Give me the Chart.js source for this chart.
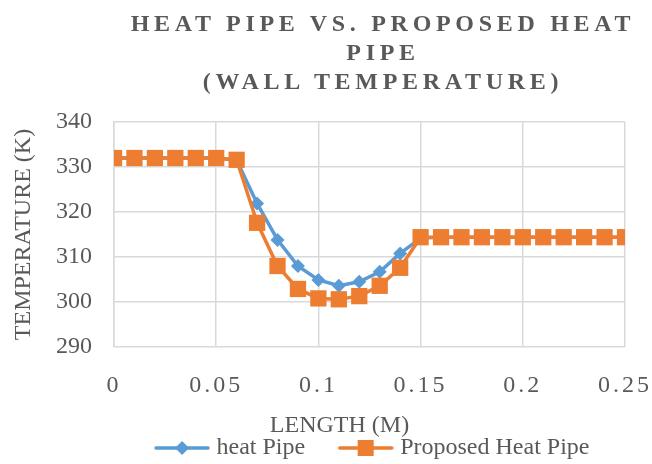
<!DOCTYPE html>
<html>
<head>
<meta charset="utf-8">
<script src="https://cdn.jsdelivr.net/npm/chart.js@4/dist/chart.umd.min.js"></script>
<style>
  html, body { margin: 0; padding: 0; background: #fff; }
  #wrap { position: relative; width: 652px; height: 464px; overflow: hidden; }
  #title {
    position: absolute; left: 103px; width: 560px; top: 9px;
    text-align: center; font-family: "Liberation Serif", "Times New Roman", serif;
    font-weight: bold; font-size: 24px; line-height: 29px; letter-spacing: 4.7px;
    color: #595959; white-space: nowrap;
  }
  canvas { position: absolute; left: 0; top: 0; }
</style>
</head>
<body>
<div id="wrap">
  <canvas id="c" width="652" height="464"></canvas>
  <div id="title">HEAT PIPE VS. PROPOSED HEAT<br>PIPE<br>(WALL TEMPERATURE)</div>
</div>
<script>
const lengths = [0, 0.01, 0.02, 0.03, 0.04, 0.05, 0.06, 0.07, 0.08, 0.09, 0.10, 0.11, 0.12,
                 0.13, 0.14, 0.15, 0.16, 0.17, 0.18, 0.19, 0.20, 0.21, 0.22, 0.23, 0.24, 0.25];
const heatPipe = [332, 332, 332, 332, 332, 332, 331.5, 321.9, 313.8, 308.0, 304.9, 303.6, 304.5,
                  306.7, 310.8, 314.2, 314.4, 314.4, 314.4, 314.4, 314.4, 314.4, 314.4, 314.4, 314.4, 314.4];
const proposedHeatPipe = [332, 332, 332, 332, 332, 332, 331.6, 317.6, 308.0, 302.9, 300.8, 300.6, 301.3,
                  303.6, 307.6, 314.4, 314.4, 314.4, 314.4, 314.4, 314.4, 314.4, 314.4, 314.4, 314.4, 314.4];
const seriesNames = ["heat Pipe", "Proposed Heat Pipe"];
const xTickLabels = ["0", "0.05", "0.1", "0.15", "0.2", "0.25"];
const yTickLabels = ["290", "300", "310", "320", "330", "340"];
const xAxisTitle = "LENGTH (M)";
const yAxisTitle = "TEMPERATURE (K)";

const BLUE = "#5B9BD5", ORANGE = "#ED7D31", TXT = "#595959", GRID = "#D9D9D9";
const FONT = "'Liberation Serif', 'Times New Roman', serif";

function legendIcon(color, shape) {
  const cv = document.createElement("canvas");
  cv.width = 56; cv.height = 18;
  const g = cv.getContext("2d");
  g.strokeStyle = color; g.lineWidth = 3.5; g.lineCap = "round";
  g.beginPath(); g.moveTo(2, 9); g.lineTo(54, 9); g.stroke();
  g.fillStyle = color;
  g.beginPath();
  if (shape === "diamond") {
    g.moveTo(28, 2); g.lineTo(35, 9); g.lineTo(28, 16); g.lineTo(21, 9);
  } else {
    g.rect(20, 1, 16, 16);
  }
  g.closePath(); g.fill();
  return cv;
}
const icons = [legendIcon(BLUE, "diamond"), legendIcon(ORANGE, "square")];

const customPlugin = {
  id: "excelLook",
  afterLayout(chart) {
    const lg = chart.legend;
    if (lg) { lg.left += 62; lg.right += 62; lg.top -= 9; lg.bottom -= 9; }
  },
  beforeDraw(chart) {
    const s = chart.scales.x;
    if (s && !s._lsPatched) {
      const orig = s.drawLabels;
      s.drawLabels = function (ca) {
        const c = this.ctx; c.save(); c.letterSpacing = "3px"; orig.call(this, ca); c.restore();
      };
      s._lsPatched = true;
    }
  },
  afterDraw(chart) {
    const ca = chart.chartArea, c = chart.ctx;
    c.save();
    c.font = "24px " + FONT;
    c.fillStyle = TXT; c.textAlign = "center"; c.textBaseline = "alphabetic";
    c.fillText(xAxisTitle, (ca.left + ca.right) / 2 - 30, ca.bottom + 85);
    c.restore();
  }
};

new Chart(document.getElementById("c"), {
  type: "line",
  data: {
    datasets: [
      {
        label: seriesNames[0],
        data: lengths.map((x, i) => ({ x: x, y: heatPipe[i] })),
        borderColor: BLUE, backgroundColor: BLUE, borderWidth: 3.5,
        pointStyle: "rectRot", pointRadius: 7, pointHoverRadius: 7,
        pointBorderWidth: 0, tension: 0, order: 1
      },
      {
        label: seriesNames[1],
        data: lengths.map((x, i) => ({ x: x, y: proposedHeatPipe[i] })),
        borderColor: ORANGE, backgroundColor: ORANGE, borderWidth: 3.5,
        pointStyle: "rect", pointRadius: 11.5, pointHoverRadius: 11.5,
        pointBorderWidth: 0, tension: 0, order: 0
      }
    ]
  },
  options: {
    responsive: false, animation: false, devicePixelRatio: 1,
    layout: { padding: { top: 122, left: 0, right: 27, bottom: -15 } },
    plugins: {
      title: { display: false },
      tooltip: { enabled: false },
      legend: {
        position: "bottom",
        labels: {
          usePointStyle: true, pointStyleWidth: 45,
          color: TXT, font: { family: FONT, size: 24 }, padding: 38,
          generateLabels(chart) {
            return chart.data.datasets.map((d, i) => ({
              text: d.label, pointStyle: icons[i], fillStyle: d.borderColor,
              strokeStyle: d.borderColor, lineWidth: 0, hidden: false, datasetIndex: i,
              fontColor: TXT
            }));
          }
        }
      }
    },
    scales: {
      x: {
        type: "linear", min: 0, max: 0.25,
        afterBuildTicks(scale) {
          scale.ticks = xTickLabels.map(v => ({ value: parseFloat(v) }));
        },
        afterFit(scale) { scale.height = 60; scale.paddingLeft = 0; scale.paddingRight = 0; },
        ticks: {
          color: TXT, font: { family: FONT, size: 24 }, padding: 24, maxRotation: 0,
          callback: (v, i) => xTickLabels[i]
        },
        grid: { color: GRID, lineWidth: 1.5, drawTicks: false },
        border: { display: false },
        title: { display: false }
      },
      y: {
        min: 290, max: 340,
        afterBuildTicks(scale) {
          scale.ticks = yTickLabels.map(v => ({ value: parseFloat(v) }));
        },
        afterFit(scale) { scale.width = 114; },
        ticks: {
          color: TXT, font: { family: FONT, size: 24 }, padding: 22,
          callback: (v, i) => yTickLabels[i]
        },
        grid: { color: GRID, lineWidth: 1.5, drawTicks: false },
        border: { display: true, color: GRID, width: 1.5 },
        title: { display: true, text: yAxisTitle, color: TXT, font: { family: FONT, size: 24 }, padding: { top: 9, bottom: 0 } }
      }
    }
  },
  plugins: [customPlugin]
});
</script>
</body>
</html>
